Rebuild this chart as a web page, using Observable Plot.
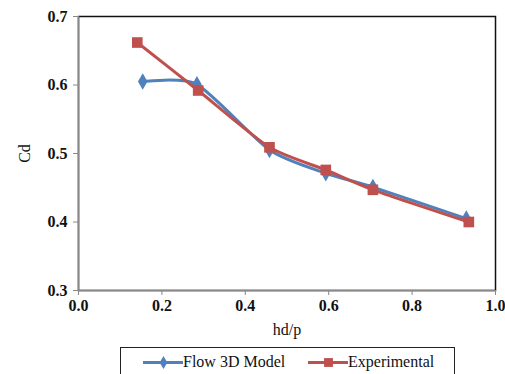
<!DOCTYPE html>
<html>
<head>
<meta charset="utf-8">
<script src="https://cdn.jsdelivr.net/npm/d3@7"></script>
<script src="https://cdn.jsdelivr.net/npm/@observablehq/plot@0.6"></script>
<style>
  html, body { margin: 0; padding: 0; background: white; width: 505px; height: 374px; overflow: hidden; position: relative; }
  #legend { position: absolute; left: 120px; top: 347px; width: 333px; height: 40px; border: 1px solid #222; background: white;
    font-family: 'Liberation Serif', 'Times New Roman', 'DejaVu Serif', serif; font-size: 16px; color: #111; }
  .item { position: absolute; top: 4px; display: flex; align-items: center; }
  .item svg { display: block; }
</style>
</head>
<body>
<div id="chart"></div>
<div id="legend"></div>
<script>
// Data
const flowHdp = [0.154, 0.284, 0.458, 0.593, 0.706, 0.930];
const flowCd  = [0.605, 0.601, 0.505, 0.471, 0.451, 0.405];
const expHdp  = [0.141, 0.287, 0.458, 0.593, 0.706, 0.936];
const expCd   = [0.662, 0.592, 0.509, 0.476, 0.447, 0.400];
const seriesNames = ["Flow 3D Model", "Experimental"];
const seriesColors = ["#4F81BD", "#C0504D"];
const xTicks = [0.0, 0.2, 0.4, 0.6, 0.8, 1.0];
const yTicks = [0.3, 0.4, 0.5, 0.6, 0.7];

const flow = flowHdp.map((x, i) => ({x, y: flowCd[i]}));
const exp = expHdp.map((x, i) => ({x, y: expCd[i]}));

const chart = Plot.plot({
  width: 505,
  height: 340,
  marginLeft: 78,
  marginRight: 10,
  marginTop: 16,
  marginBottom: 50,
  style: {fontFamily: "'Liberation Serif', 'Times New Roman', 'DejaVu Serif', serif", fontSize: "16px", background: "white", color: "#111"},
  x: {domain: [0, 1]},
  y: {domain: [0.3, 0.7]},
  marks: [
    Plot.frame({stroke: "#111", strokeWidth: 1.5}),
    Plot.ruleX([0], {stroke: "#888", strokeWidth: 1.5}),
    Plot.ruleY([0.3], {stroke: "#888", strokeWidth: 1.5}),
    Plot.axisY({ticks: yTicks, tickFormat: d3.format(".1f"), tickSize: 5, tickPadding: 6, fontWeight: "bold", stroke: "#888", fill: "#111", label: null}),
    Plot.axisY({ticks: [], label: "Cd", labelAnchor: "center", labelArrow: "none", labelOffset: 60, fill: "#111"}),
    Plot.axisX({ticks: xTicks, tickFormat: d3.format(".1f"), tickSize: 5, tickPadding: 4, fontWeight: "bold", stroke: "#888", fill: "#111", label: null}),
    Plot.axisX({ticks: [], label: "hd/p", labelAnchor: "center", labelArrow: "none", labelOffset: 44, fill: "#111"}),
    Plot.line(flow, {x: "x", y: "y", stroke: seriesColors[0], strokeWidth: 3, curve: "cardinal", tension: 0.35}),
    Plot.dot(flow, {x: "x", y: "y", symbol: "diamond", fill: seriesColors[0], r: 5}),
    Plot.line(exp, {x: "x", y: "y", stroke: seriesColors[1], strokeWidth: 3, curve: "cardinal", tension: 0.35}),
    Plot.dot(exp, {x: "x", y: "y", symbol: "square", fill: seriesColors[1], r: 6})
  ]
});
document.getElementById("chart").appendChild(chart);

// Legend
const legend = document.getElementById("legend");
const lefts = [22, 187];
const symbols = ["diamond", "square"];
seriesNames.forEach((name, i) => {
  const item = document.createElement("div");
  item.className = "item";
  item.style.left = lefts[i] + "px";
  const sw = Plot.plot({
    width: 40, height: 20, margin: 0,
    x: {domain: [0, 1], axis: null}, y: {domain: [0, 1], axis: null},
    style: {background: "transparent"},
    marks: [
      Plot.ruleY([0.5], {stroke: seriesColors[i], strokeWidth: 3}),
      Plot.dot([{x: 0.5, y: 0.5}], {x: "x", y: "y", symbol: symbols[i], fill: seriesColors[i], r: i === 0 ? 4 : 5})
    ]
  });
  item.appendChild(sw);
  const label = document.createElement("span");
  label.textContent = name;
  item.appendChild(label);
  legend.appendChild(item);
});
</script>
</body>
</html>
